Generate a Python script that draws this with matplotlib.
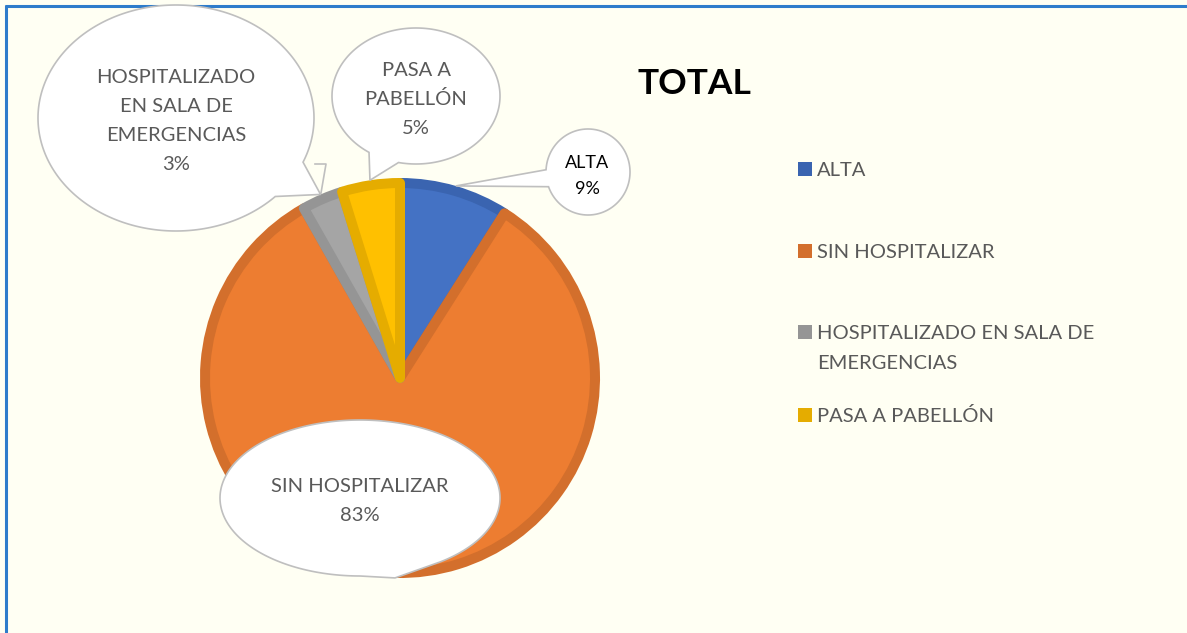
import numpy as np
import matplotlib
matplotlib.use("Agg")
import matplotlib.pyplot as plt
from matplotlib.patches import Polygon, Rectangle

# ---- data ----
categories = ["ALTA", "SIN HOSPITALIZAR", "HOSPITALIZADO EN SALA DE EMERGENCIAS", "PASA A PABELLÓN"]
values = [9.0, 82.8, 3.4, 4.8]
pct_labels = ["9%", "83%", "3%", "5%"]
face_colors = ["#4472C4", "#ED7D31", "#A5A5A5", "#FFC000"]
edge_colors = ["#3A64B0", "#D36F2C", "#959595", "#E5AC00"]
legend_lines = [["ALTA"], ["SIN HOSPITALIZAR"], ["HOSPITALIZADO EN SALA DE", "EMERGENCIAS"], ["PASA A PABELLÓN"]]
callout_lines = [["ALTA", "9%"], ["SIN HOSPITALIZAR", "83%"],
                 ["HOSPITALIZADO", "EN SALA DE", "EMERGENCIAS", "3%"], ["PASA A", "PABELLÓN", "5%"]]
title = "TOTAL"

W, H = 1187, 633
BG = "#FFFFF3"
FONT = "Lato"
TXT = "#595959"

fig = plt.figure(figsize=(W / 100, H / 100), dpi=100, facecolor=BG)
ax = fig.add_axes([0, 0, 1, 1])
ax.set_facecolor(BG)


def P(x, y):
    return (x, H - y)


# ---- pie ----
cx, cy = 400, 378
R = 200
lw_px = 10
ax.pie(values, colors=face_colors, startangle=90, counterclock=False,
       center=P(cx, cy), radius=R - lw_px / 2,
       wedgeprops=dict(linewidth=lw_px * 0.72, joinstyle="round"))
for w, ec in zip(ax.patches, edge_colors):
    w.set_edgecolor(ec)

ax.set_xlim(0, W)
ax.set_ylim(0, H)
ax.set_aspect("auto")
ax.axis("off")

total = sum(values)
cum = np.cumsum([0] + values[:-1])
tips = []
for c, v in zip(cum, values):
    phi = np.deg2rad(360 * (c + v / 2) / total)
    tips.append((cx + R * np.sin(phi), cy - R * np.cos(phi)))


# ---- callouts ----
def bubble(ecx, ecy, a, b, t1, t2, tip, z=5):
    # t1 < t2 degrees (y-up param); tail occupies [t1, t2]
    ts = np.deg2rad(np.linspace(t2, t1 + 360, 300))
    xs = ecx + a * np.cos(ts)
    ys = (H - ecy) + b * np.sin(ts)
    pts = list(zip(xs, ys)) + [P(*tip)]
    ax.add_patch(Polygon(pts, closed=True, facecolor="white", edgecolor="#BFBFBF",
                         linewidth=1.2, zorder=z, joinstyle="miter"))


# order: ALTA, SIN, HOSP, PASA
bubble(588, 172, 42, 43, 177, 200, tips[0])
bubble(360, 498, 140, 78, -90, -55, tips[1])
bubble(176, 118, 138, 113, -44, -23, tips[2])
bubble(416, 96, 84, 68, -124, -102, tips[3])

# small leader artifact
ax.plot([315, 326, 321], [H - 164, H - 164, H - 193], color="#BFBFBF", lw=1.2, zorder=4)

callout_pos = [
    (587, [168, 194], 13, "#000000"),
    (360, [492, 521], 14.5, TXT),
    (176, [83, 112, 141, 170], 14.5, TXT),
    (416, [76, 105, 134], 14.5, TXT),
]
for lines, (x, ys, fs, col) in zip(callout_lines, callout_pos):
    for ln, y in zip(lines, ys):
        ax.text(*P(x, y), ln, ha="center", va="baseline", fontsize=fs,
                family=FONT, color=col, zorder=6)

# ---- title ----
ax.text(*P(694, 94), title, ha="center", va="baseline", fontsize=25.5,
        family=FONT, weight="bold", color="#000000")

# ---- legend ----
leg_y = [[176], [258], [339, 369], [422]]
for lines, ys, col in zip(legend_lines, leg_y, edge_colors):
    ax.add_patch(Rectangle(P(798, ys[0]), 14, 14, facecolor=col, edgecolor="none"))
    for ln, y in zip(lines, ys):
        ax.text(*P(817, y), ln, ha="left", va="baseline", fontsize=14.5,
                family=FONT, color=TXT)

# ---- frame border ----
ax.plot([5, W], [H - 5.5, H - 5.5], color="#2E7CCB", lw=2.2, solid_capstyle="butt")
ax.plot([6, 6], [H - 5, 0], color="#2E7CCB", lw=2.2, solid_capstyle="butt")

fig.savefig("out.png", dpi=100, facecolor=BG)
